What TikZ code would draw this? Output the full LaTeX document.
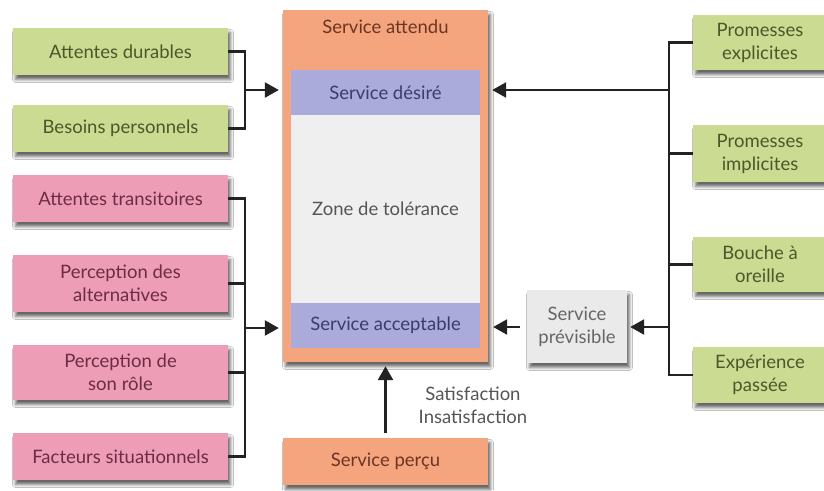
\documentclass[tikz,border=0pt]{standalone}
\usepackage{fontspec}
\setmainfont{Lato}
\usetikzlibrary{shadows,shadows.blur,arrows.meta}
\definecolor{gbox}{HTML}{CCDB92}
\definecolor{gtext}{HTML}{4A582A}
\definecolor{pbox}{HTML}{EE9DB6}
\definecolor{ptext}{HTML}{6E2B45}
\definecolor{obox}{HTML}{F5A57E}
\definecolor{otext}{HTML}{6E3422}
\definecolor{vbox}{HTML}{ABABDB}
\definecolor{vtext}{HTML}{3C3C6C}
\definecolor{zbox}{HTML}{EFEFEF}
\definecolor{ztext}{HTML}{555555}
\definecolor{gpbox}{HTML}{EAEAEA}
\definecolor{lnc}{HTML}{222222}
\begin{document}
\begin{tikzpicture}[x=1pt,y=-1pt,
  txt/.style={font=\fontsize{18.5}{23}\selectfont, align=center},
  box/.style={txt, rectangle, inner sep=2pt,
    blur shadow={shadow xshift=2.5pt,shadow yshift=-4.5pt,shadow blur radius=3pt,shadow opacity=60}},
  greenbox/.style={box, fill=gbox, text=gtext},
  pinkbox/.style={box, fill=pbox, text=ptext},
  orangebox/.style={box, fill=obox, text=otext},
  innerbox/.style={txt, rectangle, inner sep=0pt, minimum width=189pt},
  conn/.style={draw=lnc, line width=2.5pt},
  arr/.style={conn, -{Triangle[length=14pt,width=15pt]}},
]
\useasboundingbox (0,0) rectangle (824,490);
\clip (0,0) rectangle (824,490);
\fill[white] (0,0) rectangle (824,490);

% left green
\node[greenbox, minimum width=215pt, minimum height=47pt] (ad) at (120.5,51.5) {Attentes durables};
\node[greenbox, minimum width=215pt, minimum height=47pt] (bp) at (120.5,128.5) {Besoins personnels};
% left pink
\node[pinkbox, minimum width=215pt, minimum height=47pt] (at) at (120.5,198.5) {Attentes transitoires};
\node[pinkbox, minimum width=215pt, minimum height=57pt] (pa) at (120.5,283.5) {Perception des\\alternatives};
\node[pinkbox, minimum width=215pt, minimum height=55pt] (pr) at (120.5,372.5) {Perception de\\son rôle};
\node[pinkbox, minimum width=215pt, minimum height=47pt] (fs) at (120.5,456.5) {Facteurs situationnels};

% central
\node[orangebox, minimum width=205pt, minimum height=352pt] (ob) at (385.5,186) {};
\node[txt, text=otext] (ta) at (385.5,27) {Service attendu};
\node[innerbox, fill=vbox, text=vtext, minimum height=45pt] (sd) at (385.5,92.5) {Service désiré};
\node[innerbox, fill=zbox, text=ztext, minimum height=188pt] (zt) at (385.5,209) {Zone de tolérance};
\node[innerbox, fill=vbox, text=vtext, minimum height=45pt] (sa) at (385.5,325.5) {Service acceptable};
\node[orangebox, minimum width=205pt, minimum height=47pt] (sp) at (385.5,461.5) {Service perçu};
\node[txt, text=ztext] (sat) at (473,405) {Satisfaction\\Insatisfaction};

% service previsible
\node[box, fill=gpbox, text=black!60, minimum width=100pt, minimum height=73pt] (spv) at (577,326.5) {Service\\prévisible};

% right green
\node[greenbox, minimum width=134pt, minimum height=55pt] (pe) at (760,42.5) {Promesses\\explicites};
\node[greenbox, minimum width=134pt, minimum height=57pt] (pi) at (760,153.5) {Promesses\\implicites};
\node[greenbox, minimum width=134pt, minimum height=55pt] (bo) at (760,264.5) {Bouche à\\oreille};
\node[greenbox, minimum width=134pt, minimum height=56pt] (ep) at (760,375) {Expérience\\passée};

% junction coordinates
\coordinate (lg) at (245,90);
\coordinate (lp) at (245,328);
\coordinate (rb) at (669,90);
\coordinate (rp) at (669,327);

% left connectors
\draw[conn] (ad.east) -| (lg) |- (bp.east);
\draw[arr, shorten >=4pt] (lg) -- (ob.west |- lg);
\draw[conn] (at.east) -| (lp) |- (fs.east);
\draw[conn] (pa.east) -- (pa.east -| lp);
\draw[conn] (pr.east) -- (pr.east -| lp);
\draw[arr, shorten >=4pt] (lp) -- (ob.west |- lp);

% right connectors
\draw[conn] (pe.west) -| (rb) |- (ep.west);
\draw[conn] (pi.west) -- (pi.west -| rb);
\draw[conn] (bo.west) -- (bo.west -| rb);
\draw[arr, shorten >=4pt] (rb) -- (ob.east |- rb);
\draw[arr, shorten >=3pt] (rp) -- (spv.east |- rp);
\draw[arr, shorten <=7pt, shorten >=5pt] (spv.west |- rp) -- (ob.east |- rp);

% bottom
\draw[arr, shorten <=5pt, shorten >=4pt] (sp.north) -- (ob.south);
\end{tikzpicture}
\end{document}
